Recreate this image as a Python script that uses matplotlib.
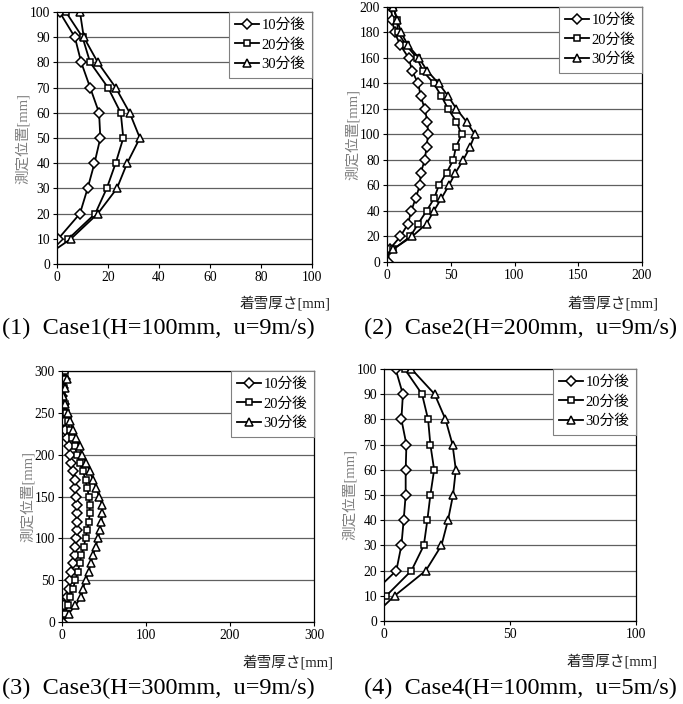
import numpy as np
import matplotlib.pyplot as plt

nan = np.nan
plt.rcParams['font.family'] = ['Liberation Serif', 'Noto Sans CJK JP']

series_names = ['10分後', '20分後', '30分後']
y_label = '測定位置[mm]'
x_label = '着雪厚さ[mm]'
captions = ['(1)  Case1(H=100mm,  u=9m/s)', '(2)  Case2(H=200mm,  u=9m/s)',
            '(3)  Case3(H=300mm,  u=9m/s)', '(4)  Case4(H=100mm,  u=5m/s)']

# case 1 (H=100mm, u=9m/s)
c1_pos = np.arange(0, 101, 10)
c1_10 = [nan, 0.5, 9, 12, 14.7, 17, 16.5, 13, 9.5, 7, 1]
c1_20 = [nan, 4.5, 15, 19.5, 23, 26, 25, 20, 13, 10, 3.5]
c1_30 = [-9, 5.5, 16, 23.5, 27.5, 32.5, 28.5, 23, 16, 10.5, 9]

# case 2 (H=200mm, u=9m/s)
c2_pos = np.arange(0, 201, 10)
c2_10 = [0.8, 2, 10.5, 16.5, 19, 22.5, 25.7, 26.5, 29.6, 31, 32.2,
         31.7, 29.6, 26.5, 24.4, 19.7, 17, 10.5, 6, 4, 3.4]
c2_20 = [nan, 5, 18.3, 24.4, 31, 37, 40.6, 46.7, 52, 54, 58.5,
         54.5, 48, 42.7, 36.7, 28, 23.6, 15, 8.5, 8, 5]
c2_30 = [nan, 4.7, 19.7, 31, 36.7, 42.7, 48.5, 53.7, 59.8, 65, 69,
         62.4, 54.5, 48, 40.6, 31.5, 25, 16.5, 11, 8, 4.7]

# case 3 (H=300mm, u=9m/s)
c3_pos = np.arange(0, 301, 10)
c3_10 = [0, 3, 2, 6, 8, 10, 11, 13, 15, 16, 17, 18, 18, 18, 18, 17,
         16, 15, 13, 11, 10, 8, 6, 4, 2, 1, 2, 0, 1, 3, 2]
c3_20 = [nan, 4, 7, 10, 13, 16, 19, 21, 23, 26, 28, 30, 32, 33, 33, 32,
         30, 28, 25, 21, 18, 15, 12, 9, 7, 5, 3, 0, 2, 3, 4]
c3_30 = [nan, 8, 16, 23, 25, 28, 32, 34, 37, 40, 43, 45, 47, 48, 48, 44,
         41, 37, 33, 29, 24, 21, 17, 13, 10, 7, 4, 1, 3, 6, nan]

# case 4 (H=100mm, u=5m/s)
c4_pos = np.arange(0, 101, 10)
c4_10 = [nan, -5.5, 4.9, 6.9, 7.8, 8.6, 8.6, 8.9, 6.9, 7.5, 4.6]
c4_20 = [nan, 0.9, 10.9, 15.8, 17.2, 18.4, 19.9, 18.4, 17.5, 15.1, 8.2]
c4_30 = [-6.3, 4.2, 16.6, 22.8, 25.4, 27.4, 28.5, 27.2, 24.4, 20.1, 10.9]

W, H = 683, 704
fig = plt.figure(figsize=(W / 100, H / 100), dpi=100)


def rect(x0, y0, x1, y1):
    return [x0 / W, 1 - y1 / H, (x1 - x0) / W, (y1 - y0) / H]


panels = [
    (rect(57, 12, 312, 264), c1_pos, [c1_10, c1_20, c1_30], 100, 20, 100, 10),
    (rect(387, 7, 642, 262), c2_pos, [c2_10, c2_20, c2_30], 200, 50, 200, 20),
    (rect(62, 371, 314, 622), c3_pos, [c3_10, c3_20, c3_30], 300, 100, 300, 50),
    (rect(384, 369, 636, 621), c4_pos, [c4_10, c4_20, c4_30], 100, 50, 100, 10),
]
markers = ['D', 's', '^']
msizes = [4.8, 5.0, 6.2]

for r, pos, vals, xmax, xstep, ymax, ystep in panels:
    ax = fig.add_axes(r)
    for v, name, m, ms in zip(vals, series_names, markers, msizes):
        ax.plot(v, pos, color='black', lw=1.3, marker=m, ms=ms,
                mfc='white', mec='black', mew=1.1, label=name)
    ax.set_xlim(0, xmax)
    ax.set_ylim(0, ymax)
    ax.set_xticks(np.arange(0, xmax + 1, xstep))
    ax.set_yticks(np.arange(0, ymax + 1, ystep))
    ax.yaxis.grid(True, color='#606060', lw=0.9)
    ax.set_axisbelow(True)
    ax.tick_params(direction='out', length=3, width=0.8, labelsize=9.8, pad=2)
    for s in ax.spines.values():
        s.set_linewidth(0.9)
    ax.set_ylabel(y_label, fontsize=10.5, color='#808080', labelpad=0)
    leg = ax.legend(loc='upper right', borderaxespad=0, fancybox=False,
                    fontsize=10.5, handlelength=1.6, handletextpad=0.2,
                    labelspacing=0.4, borderpad=0.45, framealpha=1)
    leg.get_frame().set_edgecolor('#808080')
    leg.get_frame().set_linewidth(0.8)

# x-axis titles
for xc, yc in [(285, 303), (613, 303), (288, 662), (612, 661)]:
    fig.text(xc / W, 1 - yc / H, x_label, ha='center', va='center',
             fontsize=10.5, color='#202020')

# captions
for (xc, yc), txt in zip([(2, 328), (364, 328), (2, 688), (364, 688)], captions):
    fig.text(xc / W, 1 - yc / H, txt, ha='left', va='center', fontsize=17.5,
             family='Liberation Serif')

fig.savefig('out.png', dpi=100)
